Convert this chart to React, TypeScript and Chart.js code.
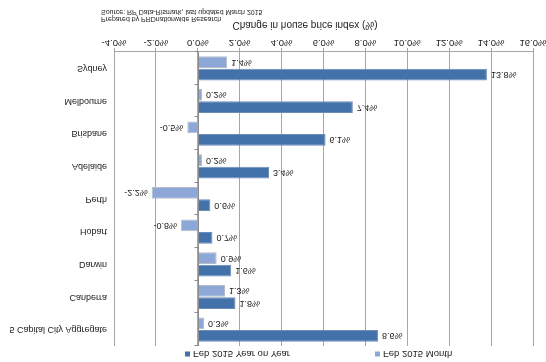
import React, { useEffect, useRef } from "react";
import { Chart, registerables } from "chart.js";

Chart.register(...registerables);

// Capital cities, listed from the top of the plot downwards
const cities = [
  "5 Capital City Aggregate",
  "Canberra",
  "Darwin",
  "Hobart",
  "Perth",
  "Adelaide",
  "Brisbane",
  "Melbourne",
  "Sydney",
];

// Change in house price index, %
const yearOnYear = [8.6, 1.8, 1.6, 0.7, 0.6, 3.4, 6.1, 7.4, 13.8];
const monthly = [0.3, 1.3, 0.9, -0.8, -2.2, 0.2, -0.5, 0.2, 1.4];

const seriesNames = ["Feb 2015 Year on Year", "Feb 2015 Month"];
const seriesColors = ["#4372AA", "#8DA8D6"];

const axisTitle = "Change in house price index (%)";
const preparedBy = "Prepared by PRDnationwide Research";
const sourceNote = "Source: RP Data-Rismark, last updated March 2015";

const FONT = "'Liberation Sans', Arial, sans-serif";

const pct = (v: number) => `${v.toFixed(1)}%`;

// value labels at the end of every bar
const barLabels = {
  id: "barLabels",
  afterDatasetsDraw(chart: any) {
    const ctx = chart.ctx;
    ctx.save();
    ctx.font = `9px ${FONT}`;
    ctx.fillStyle = "#222";
    ctx.textBaseline = "middle";
    chart.data.datasets.forEach((ds: any, di: number) => {
      const meta = chart.getDatasetMeta(di);
      meta.data.forEach((bar: any, i: number) => {
        const v = ds.data[i] as number;
        if (v < 0) {
          ctx.textAlign = "right";
          ctx.fillText(pct(v), bar.x - 4, bar.y);
        } else {
          ctx.textAlign = "left";
          ctx.fillText(pct(v), bar.x + 4, bar.y);
        }
      });
    });
    ctx.restore();
  },
};

// zero line with category tick marks, legend, axis title and notes
const decorations = {
  id: "decorations",
  afterDraw(chart: any) {
    const ctx = chart.ctx;
    const xs = chart.scales.x;
    const area = chart.chartArea;
    ctx.save();

    const x0 = Math.round(xs.getPixelForValue(0)) + 0.5;
    ctx.strokeStyle = "#8c8c8c";
    ctx.lineWidth = 1;
    ctx.beginPath();
    ctx.moveTo(x0, area.top);
    ctx.lineTo(x0, area.bottom);
    const step = (area.bottom - area.top) / cities.length;
    for (let i = 0; i <= cities.length; i++) {
      const y = Math.round(area.top + step * i) + 0.5;
      ctx.moveTo(x0 - 4, y);
      ctx.lineTo(x0, y);
    }
    ctx.stroke();

    // legend
    ctx.font = `9.5px ${FONT}`;
    ctx.textBaseline = "middle";
    ctx.textAlign = "left";
    const legendX = [185, 375];
    const legendY = 8;
    seriesNames.forEach((name, i) => {
      ctx.fillStyle = seriesColors[i];
      ctx.fillRect(legendX[i], legendY - 2.5, 5, 5);
      ctx.fillStyle = "#222";
      ctx.fillText(name, legendX[i] + 8, legendY);
    });

    // axis title
    ctx.font = `10px ${FONT}`;
    ctx.textAlign = "center";
    ctx.fillText(axisTitle, 305, 337);

    // notes
    ctx.font = `7px ${FONT}`;
    ctx.textAlign = "left";
    ctx.fillText(preparedBy, 101, 343);
    ctx.fillText(sourceNote, 101, 350);

    ctx.restore();
  },
};

export default function App() {
  const canvasRef = useRef<HTMLCanvasElement | null>(null);

  useEffect(() => {
    if (!canvasRef.current) return;
    const chart = new Chart(canvasRef.current, {
      type: "bar",
      data: {
        labels: cities,
        datasets: [
          {
            label: seriesNames[0],
            data: yearOnYear,
            backgroundColor: seriesColors[0],
            borderColor: "#6d8db8",
            borderWidth: 1,
          },
          {
            label: seriesNames[1],
            data: monthly,
            backgroundColor: seriesColors[1],
            borderColor: "#b4bcc8",
            borderWidth: 1,
          },
        ],
      },
      options: {
        indexAxis: "y",
        responsive: false,
        animation: false,
        devicePixelRatio: 1,
        layout: { padding: { top: 16, right: 13, left: 0, bottom: 0 } },
        datasets: {
          bar: { categoryPercentage: 0.76, barPercentage: 0.95 },
        },
        plugins: {
          legend: { display: false },
          tooltip: { enabled: false },
        },
        scales: {
          x: {
            min: -4,
            max: 16,
            afterFit(scale: any) {
              scale.height = 52;
              scale.paddingLeft = 0;
              scale.paddingRight = 0;
            },
            ticks: {
              stepSize: 2,
              padding: 0,
              color: "#222",
              font: { family: FONT, size: 9.5 },
              maxRotation: 0,
              callback: (v: any) => pct(Number(v)),
            },
            grid: {
              color: "#a6a6a6",
              tickLength: 4,
            },
            border: { display: true, color: "#a6a6a6" },
          },
          y: {
            afterFit(scale: any) {
              scale.width = 114;
            },
            ticks: {
              padding: 7,
              color: "#222",
              font: { family: FONT, size: 9 },
            },
            grid: { display: false, drawTicks: false },
            border: { display: false },
          },
        },
      },
      plugins: [barLabels, decorations],
    });
    return () => chart.destroy();
  }, []);

  return (
    <div
      style={{
        position: "fixed",
        left: 0,
        top: 0,
        width: 546,
        height: 362,
        background: "#fff",
        transform: "scaleY(-1)",
      }}
    >
      <canvas ref={canvasRef} width={546} height={362} />
    </div>
  );
}
